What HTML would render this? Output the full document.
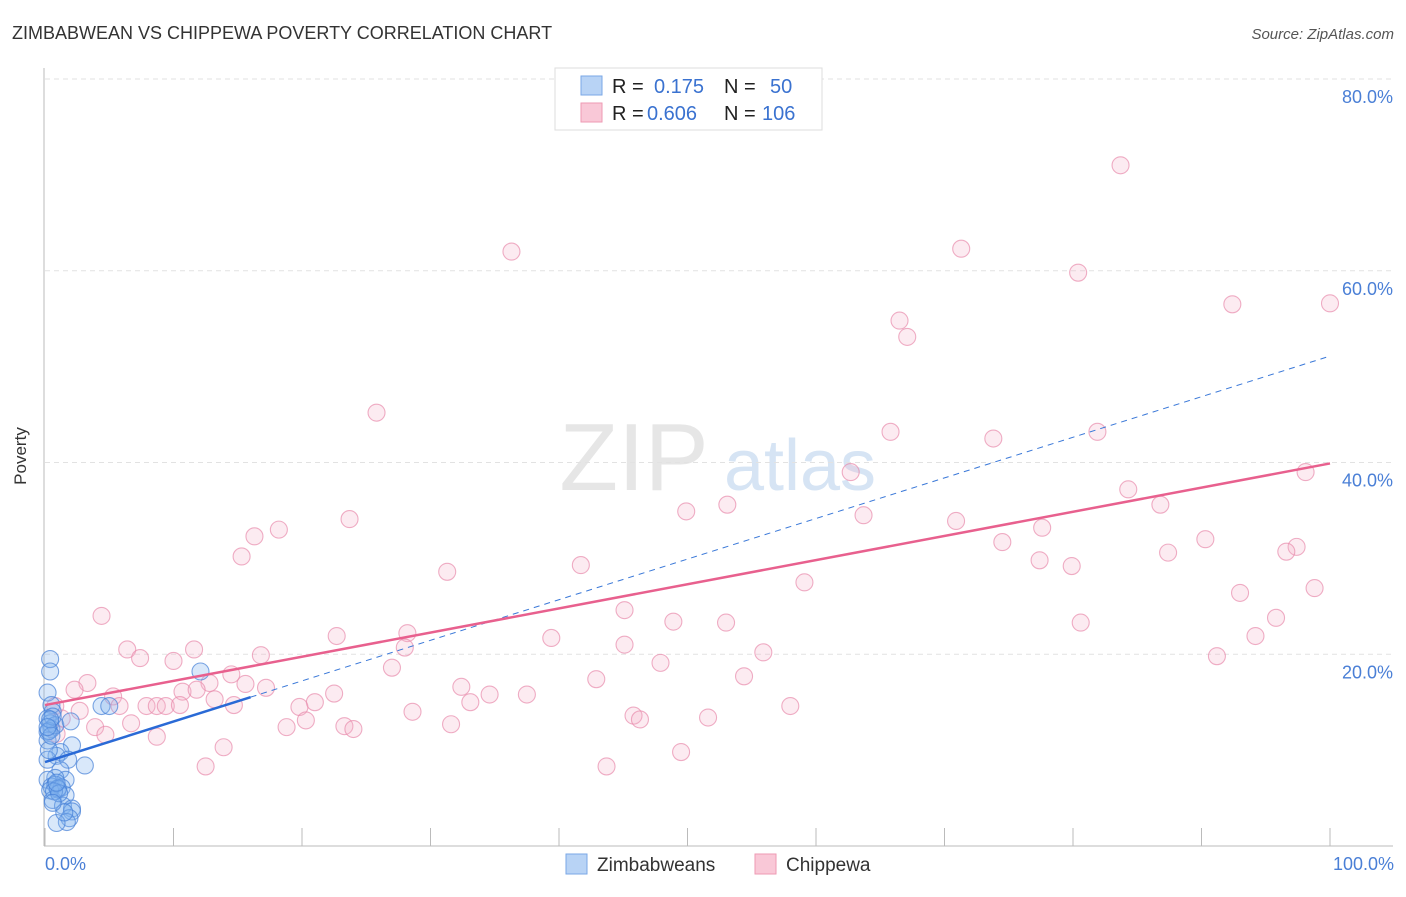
<!DOCTYPE html>
<html><head><meta charset="utf-8"><style>
body{margin:0;background:#fff;font-family:"Liberation Sans",sans-serif;}
svg text{font-family:"Liberation Sans",sans-serif;}
</style></head><body>
<svg id="chart" width="1406" height="892" viewBox="0 0 1406 892" xmlns="http://www.w3.org/2000/svg">
<text x="12" y="39" font-size="18" fill="#333">ZIMBABWEAN VS CHIPPEWA POVERTY CORRELATION CHART</text>
<text x="1394" y="39" font-size="15" fill="#555" font-style="italic" text-anchor="end">Source: ZipAtlas.com</text>
<g>
<text x="634" y="490" font-size="96" fill="#e6e6e6" font-family="Liberation Serif,serif" text-anchor="middle">ZIP</text>
<text x="800" y="490" font-size="72" fill="#d6e4f4" text-anchor="middle">atlas</text>
</g>
<g id="grid"></g>
<g id="axes"></g>
<g id="pink"></g>
<g id="blue"></g>
<g id="trends"></g>
<text x="26" y="456" font-size="17" fill="#333" text-anchor="middle" transform="rotate(-90 26 456)">Poverty</text>
<g>
<rect x="555" y="68" width="267" height="62" fill="#fff" stroke="#ddd"/>
<rect x="581" y="76" width="21" height="19" fill="#b8d3f5" stroke="#7aa7e6"/>
<rect x="581" y="103" width="21" height="19" fill="#f9c8d7" stroke="#ee9ab3"/>
<text x="612" y="93" font-size="20" fill="#222">R = </text><text x="654" y="93" font-size="20" fill="#3a72d0">0.175</text>
<text x="724" y="93" font-size="20" fill="#222">N = </text><text x="770" y="93" font-size="20" fill="#3a72d0">50</text>
<text x="612" y="120" font-size="20" fill="#222">R = </text><text x="647" y="120" font-size="20" fill="#3a72d0">0.606</text>
<text x="724" y="120" font-size="20" fill="#222">N = </text><text x="762" y="120" font-size="20" fill="#3a72d0">106</text>
</g>
<g>
<rect x="566" y="854" width="21" height="20" fill="#b8d3f5" stroke="#7aa7e6"/>
<text x="597" y="871" font-size="19" fill="#333">Zimbabweans</text>
<rect x="755" y="854" width="21" height="20" fill="#f9c8d7" stroke="#ee9ab3"/>
<text x="786" y="871" font-size="19" fill="#333">Chippewa</text>
</g>
</svg>
<script>
const yTicks=[20,40,60,80];
const yTickLabels=["20.0%","40.0%","60.0%","80.0%"];
const xTickVals=[0,10,20,30,40,50,60,70,80,90,100];
const xEndLabels=["0.0%","100.0%"];
const pinkX=[83.7,36.3,71.3,80.4,92.4,100,66.5,67.1,25.8,65.8,73.8,81.9,62.7,98.1,84.3,86.8,49.9,53.1,63.7,70.9,23.7,18.2,16.3,15.3,77.6,74.5,90.3,87.4,97.4,96.6,77.4,79.9,31.3,41.7,59.1,93.0,98.8,45.1,4.4,95.8,48.9,53.0,80.6,94.2,22.7,28.2,39.4,45.1,28.0,6.4,11.6,7.4,16.8,55.9,91.2,10.0,47.9,27.0,14.5,54.4,3.3,42.9,15.6,12.8,17.2,2.3,32.4,10.7,11.8,22.5,34.6,37.5,5.3,13.2,21.0,33.1,7.9,8.7,9.4,10.5,5.8,14.7,19.8,0.8,2.7,58.0,28.6,45.8,46.3,51.6,1.3,20.3,6.7,23.3,24.0,31.6,18.8,3.9,4.7,0.9,8.7,13.9,49.5,12.5,43.7];
const pinkY=[71.0,62.0,62.3,59.8,56.5,56.6,54.8,53.1,45.2,43.2,42.5,43.2,39.0,39.0,37.2,35.6,34.9,35.6,34.5,33.9,34.1,33.0,32.3,30.2,33.2,31.7,32.0,30.6,31.2,30.7,29.8,29.2,28.6,29.3,27.5,26.4,26.9,24.6,24.0,23.8,23.4,23.3,23.3,21.9,21.9,22.2,21.7,21.0,20.7,20.5,20.5,19.6,19.9,20.2,19.8,19.3,19.1,18.6,17.9,17.7,17.0,17.4,16.9,17.0,16.5,16.3,16.6,16.1,16.3,15.9,15.8,15.8,15.6,15.3,15.0,15.0,14.6,14.6,14.6,14.7,14.6,14.7,14.5,14.6,14.1,14.6,14.0,13.6,13.2,13.4,13.3,13.1,12.8,12.5,12.2,12.7,12.4,12.4,11.6,11.7,11.4,10.3,9.8,8.3,8.3];
const blueX=[0.4,0.4,12.1,0.2,4.4,5.0,0.5,0.6,0.2,0.4,0.5,0.2,0.8,2.0,0.2,2.1,1.2,0.9,1.8,3.1,1.2,1.6,0.8,0.2,0.5,1.0,0.8,1.3,0.4,1.6,0.6,1.4,2.1,2.1,1.9,1.7,0.9,0.2,0.3,0.6,1.0,0.7,0.4,1.1,0.3,0.5,0.9,0.2,1.5,0.6];
const blueY=[19.5,18.2,18.2,16.0,14.6,14.6,14.7,14.0,13.3,12.8,12.2,11.9,12.6,13.0,11.0,10.5,9.8,9.4,9.0,8.4,7.9,6.9,7.1,6.9,6.2,5.9,6.4,6.1,5.8,5.3,4.8,4.2,3.9,3.6,2.9,2.5,2.4,9.0,12.0,13.5,6.0,5.7,13.2,5.5,10.0,11.5,6.6,12.4,3.5,4.5];
const pinkTrend=[14.7,39.9];
const blueTrend=[8.75,51.1];
const blueSolidEnd=16;

const NS="http://www.w3.org/2000/svg";
const X0=45,X1=1330,Y0=846,Y80=79;
function sx(v){return X0+(X1-X0)*v/100;}
function sy(v){return Y0-(Y0-Y80)*v/80;}
function mk(tag,attrs,parent){const e=document.createElementNS(NS,tag);for(const k in attrs)e.setAttribute(k,attrs[k]);parent.appendChild(e);return e;}
const grid=document.getElementById('grid'),axes=document.getElementById('axes');
yTicks.forEach((t,i)=>{
  const l=mk('line',{x1:45,x2:1393,y1:sy(t),y2:sy(t),stroke:'#e2e2e2','stroke-dasharray':'5,4'},grid);
  
  
  const tx=mk('text',{x:1393,y:sy(t)+24,'font-size':18,fill:'#4a7fd6','text-anchor':'end'},axes);
  tx.textContent=yTickLabels[i];
  
  
});
const ya=mk('line',{x1:44,x2:44,y1:68,y2:846,stroke:'#bbb'},axes);


const xa=mk('line',{x1:44,x2:1393,y1:846,y2:846,stroke:'#bbb'},axes);


xTickVals.forEach(v=>{
  const t=mk('line',{x1:sx(v),x2:sx(v),y1:828,y2:846,stroke:'#bbb'},axes);
  
  
});
[[0,'start',45],[100,'end',1394]].forEach((a,i)=>{
  const tx=mk('text',{x:a[2],y:870,'font-size':18,fill:'#4a7fd6','text-anchor':a[1]},axes);
  tx.textContent=xEndLabels[i];
  
  
});
const pink=document.getElementById('pink'),blue=document.getElementById('blue');
pinkX.forEach((x,i)=>{
  const c=mk('circle',{cx:sx(x),cy:sy(pinkY[i]),r:8.5,fill:'rgba(245,175,198,0.25)',stroke:'rgba(232,140,172,0.7)','stroke-width':1.1},pink);
  
  
});
blueX.forEach((x,i)=>{
  const c=mk('circle',{cx:sx(x),cy:sy(blueY[i]),r:8.5,fill:'rgba(130,178,238,0.3)',stroke:'rgba(70,128,215,0.7)','stroke-width':1.1},blue);
  
  
});
const tr=document.getElementById('trends');
const by=v=>blueTrend[0]+(blueTrend[1]-blueTrend[0])*v/100;
const bd=mk('line',{x1:sx(blueSolidEnd),y1:sy(by(blueSolidEnd)),x2:sx(100),y2:sy(blueTrend[1]),stroke:'#3a78d8','stroke-width':1,'stroke-dasharray':'6,5'},tr);


const bs=mk('line',{x1:sx(0),y1:sy(blueTrend[0]),x2:sx(blueSolidEnd),y2:sy(by(blueSolidEnd)),stroke:'#2a6ad6','stroke-width':2.5},tr);


const pl=mk('line',{x1:sx(0),y1:sy(pinkTrend[0]),x2:sx(100),y2:sy(pinkTrend[1]),stroke:'#e8608e','stroke-width':2.5},tr);


</script>
</body></html>
